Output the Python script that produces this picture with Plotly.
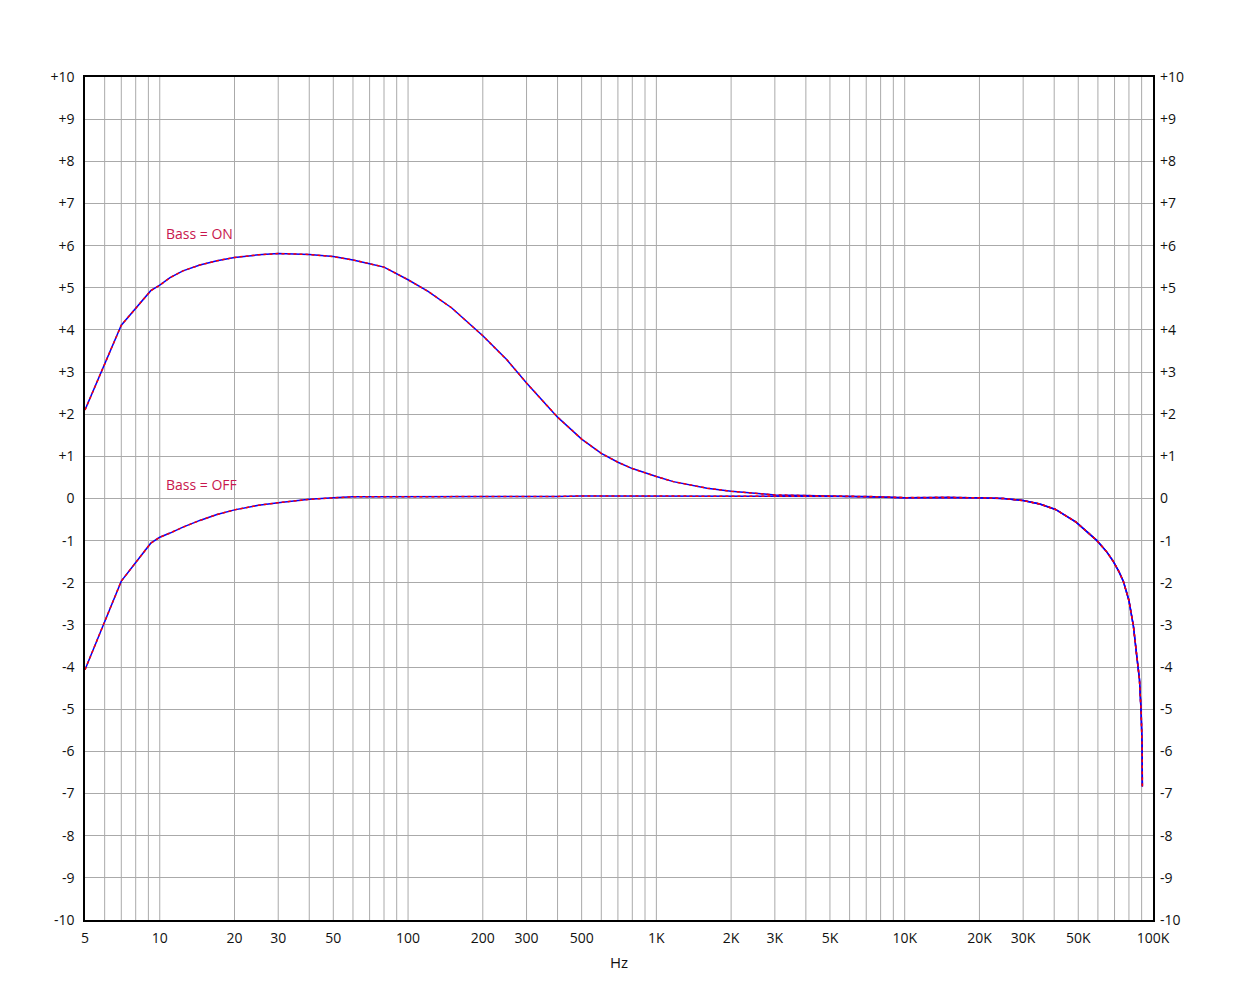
import math
import plotly.graph_objects as go

# frequency response
freq = [5, 7, 9.2, 10, 11, 12.4, 14.5, 17, 20, 25,
        30, 40, 50, 60, 70, 80, 100, 120, 150, 200,
        250, 300, 400, 500, 600, 700, 800, 900, 1000, 1170,
        1370, 1600, 2000, 2500, 3000, 4000, 5000, 7000, 10000, 15000,
        20000, 25000, 30000, 35000, 40500, 49000, 59500, 65000, 69000, 73000,
        76000, 80000, 83400, 86000, 88200, 89600, 90400, 90600]

bass_on = [2.1, 4.11, 4.93, 5.06, 5.24, 5.4, 5.54, 5.64, 5.72, 5.78,
           5.81, 5.79, 5.74, 5.66, 5.57, 5.49, 5.19, 4.92, 4.52, 3.86,
           3.29, 2.74, 1.93, 1.41, 1.07, 0.86, 0.71, 0.6, 0.52, 0.4,
           0.32, 0.245, 0.17, 0.12, 0.085, 0.07, 0.06, 0.05, 0.02, 0.03,
           0.02, 0.0, -0.05, -0.13, -0.26, -0.56, -1.0, -1.26, -1.48, -1.74,
           -1.97, -2.42, -3.03, -3.74, -4.29, -5.08, -5.88, -6.83]

bass_off = [-4.06, -1.96, -1.06, -0.92, -0.82, -0.68, -0.52, -0.38, -0.27, -0.16,
            -0.1, -0.02, 0.015, 0.04, 0.04, 0.04, 0.05, 0.05, 0.05, 0.05,
            0.05, 0.05, 0.05, 0.06, 0.06, 0.06, 0.06, 0.06, 0.06, 0.06,
            0.06, 0.06, 0.06, 0.06, 0.06, 0.06, 0.06, 0.05, 0.02, 0.03,
            0.02, 0.0, -0.05, -0.13, -0.26, -0.56, -1.0, -1.26, -1.48, -1.74,
            -1.97, -2.42, -3.03, -3.74, -4.29, -5.08, -5.88, -6.83]

x_ticks = [5, 10, 20, 30, 50, 100, 200, 300, 500, 1000, 2000, 3000, 5000, 10000, 20000,
           30000, 50000, 100000]
x_labels = ['5', '10', '20', '30', '50', '100', '200', '300', '500', '1K', '2K', '3K', '5K',
            '10K', '20K', '30K', '50K', '100K']
y_ticks = list(range(-10, 11))
y_labels = [('+%d' % v if v > 0 else str(v)) for v in y_ticks]

labels = ['Bass = ON', 'Bass = OFF']
label_pos = [(10.4, 6.28), (10.4, 0.34)]

# minor grid at every 1..9 multiple
grid_x = []
for dec in [1, 10, 100, 1000, 10000]:
    for m in range(1, 10):
        v = m * dec
        if 5 < v < 100000:
            grid_x.append(v)

fig = go.Figure()

for y in [bass_on, bass_off]:
    fig.add_trace(go.Scatter(x=freq, y=y, mode='lines',
                             line=dict(color='#0000ff', width=1.5), showlegend=False,
                             hoverinfo='skip'))
    fig.add_trace(go.Scatter(x=freq, y=y, mode='lines',
                             line=dict(color='#ff0000', width=1.5, dash='3px,3px'),
                             showlegend=False))

# dummy trace so the right axis is drawn
fig.add_trace(go.Scatter(x=[5], y=[0], yaxis='y2', mode='markers',
                         marker=dict(opacity=0), showlegend=False, hoverinfo='skip'))

for gx in grid_x:
    fig.add_shape(type='line', xref='x', yref='paper', x0=gx, x1=gx, y0=0, y1=1,
                  line=dict(color='#aaaaaa', width=1), layer='below')

for txt, (ax, ay) in zip(labels, label_pos):
    fig.add_annotation(x=math.log10(ax), y=ay, text=txt, showarrow=False, xanchor='left',
                       font=dict(color='#c8174e', size=14))

font = dict(family='Open Sans, Noto Sans, sans-serif', size=14, color='#111111')

# page has an 8px body margin, so the figure is sized to fit the window
fig.update_layout(
    width=1232, height=987,
    margin=dict(l=77, r=87, t=69, b=75),
    paper_bgcolor='white', plot_bgcolor='white',
    font=font,
    xaxis=dict(type='log', range=[math.log10(5), 5], tickvals=x_ticks, ticktext=x_labels,
               showgrid=False, zeroline=False, showline=True, linecolor='black',
               linewidth=1.5, mirror=True, ticks='', ticklabelstandoff=4, automargin=False,
               title=dict(text='Hz', standoff=12, font=dict(size=15))),
    yaxis=dict(range=[-10, 10], tickvals=y_ticks, ticktext=y_labels, showgrid=True,
               gridcolor='#aaaaaa', gridwidth=1, zeroline=False, showline=True,
               linecolor='black', linewidth=1.5, mirror=True, ticks='',
               ticklabelstandoff=6, automargin=False),
    yaxis2=dict(range=[-10, 10], tickvals=y_ticks, ticktext=y_labels, overlaying='y',
                side='right', showgrid=False, zeroline=False, ticks='',
                ticklabelstandoff=6, automargin=False),
)

fig.write_html("out.html")
